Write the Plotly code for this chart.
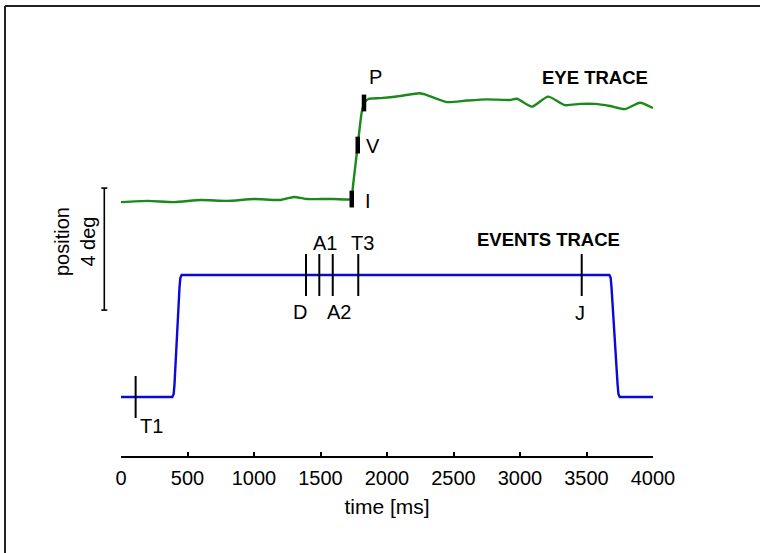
import plotly.graph_objects as go

# ---------------- data (time in ms, position in deg) ----------------
eye_t = [0, 200, 400, 600, 800, 1000, 1200, 1300, 1400, 1500, 1600, 1700, 1730,
         1745, 1780, 1810, 1830, 1860, 1950, 2100, 2248, 2300, 2450, 2600, 2752,
         2925, 2977, 3088, 3211, 3338, 3451, 3564, 3677, 3789, 3902, 4000]
eye_pos = [6.39, 6.43, 6.39, 6.46, 6.43, 6.49, 6.46, 6.56, 6.49, 6.49, 6.49, 6.475, 6.49,
           6.95, 8.26, 9.34, 9.64, 9.77, 9.80, 9.87, 9.96, 9.90, 9.67, 9.72, 9.76,
           9.74, 9.78, 9.52, 9.85, 9.57, 9.61, 9.61, 9.54, 9.44, 9.65, 9.475]

events_t = [0, 386, 396, 402, 440, 446, 456, 3672, 3682, 3688, 3734, 3740, 3750, 4000]
events_pos = [0, 0, 0.1, 0.4, 3.6, 3.9, 4, 4, 3.9, 3.6, 0.4, 0.1, 0, 0]

event_names = ["T1", "D", "A1", "A2", "T3", "J"]
event_times = [110, 1391, 1491, 1592, 1784, 3464]
event_levels = [0, 4, 4, 4, 4, 4]

eye_event_names = ["I", "V", "P"]
eye_event_times = [1735, 1780, 1827]
eye_event_pos = [6.49, 8.26, 9.64]

x_ticks = [0, 500, 1000, 1500, 2000, 2500, 3000, 3500, 4000]

# ---------------- layout constants ----------------
FONT = "Liberation Sans, Arial, Helvetica, sans-serif"
Y_RANGE = [-1.934, 12.033]
W, H = 760, 553
ML, MR, MT, MB = 121, 107, 30, 97
PW = W - ML - MR
PH = H - MT - MB


def ypaper(v):
    return (v - Y_RANGE[0]) / (Y_RANGE[1] - Y_RANGE[0])


def xpaper_px(px):
    return (px - ML) / PW


def ypaper_px(py):
    return (H - MB - py) / PH


fig = go.Figure()

fig.add_trace(go.Scatter(x=events_t, y=events_pos, mode="lines",
                         line=dict(color="#0a0ad8", width=2.4),
                         hoverinfo="skip"))
fig.add_trace(go.Scatter(x=eye_t, y=eye_pos, mode="lines",
                         line=dict(color="#1b8a1b", width=2.4, shape="spline", smoothing=0.6),
                         hoverinfo="skip"))

# event ticks
fig.add_trace(go.Scatter(x=event_times, y=event_levels, mode="markers",
                         marker=dict(symbol="line-ns", size=30, color="black",
                                     line=dict(color="black", width=2)),
                         hoverinfo="skip", cliponaxis=False))
# eye event markers
fig.add_trace(go.Scatter(x=eye_event_times, y=eye_event_pos, mode="markers",
                         marker=dict(symbol="line-ns", size=12, color="black",
                                     line=dict(color="black", width=4.5)),
                         hoverinfo="skip", cliponaxis=False))

# labels
label_pos = {
    "T1": (226, -0.95), "D": (1346, 2.79), "A1": (1534, 5.05), "A2": (1639, 2.79),
    "T3": (1812, 5.05), "J": (3451, 2.75),
    "P": (1917, 10.49), "V": (1895, 8.23), "I": (1857, 6.43),
}
annotations = []
for name in event_names + eye_event_names:
    x, y = label_pos[name]
    annotations.append(dict(x=x, y=y, text=name, showarrow=False, xanchor="center",
                            yanchor="middle", font=dict(family=FONT, size=20, color="black")))

annotations.append(dict(x=3564, y=10.46, text="<b>EYE TRACE</b>", showarrow=False,
                        xanchor="center", yanchor="middle",
                        font=dict(family=FONT, size=18.5, color="black")))
annotations.append(dict(x=3211, y=5.15, text="<b>EVENTS TRACE</b>", showarrow=False,
                        xanchor="center", yanchor="middle",
                        font=dict(family=FONT, size=18.5, color="black")))
annotations.append(dict(xref="paper", yref="paper", x=xpaper_px(75), y=ypaper_px(242),
                        text="position<br>4 deg", showarrow=False, textangle=-90,
                        xanchor="center", yanchor="middle",
                        font=dict(family=FONT, size=20, color="black")))

# scale bar (4 deg)
bar_x = xpaper_px(104.3)
cap = 3 / PW
shapes = [
    dict(type="line", xref="paper", yref="paper", x0=bar_x, x1=bar_x,
         y0=ypaper(2.85), y1=ypaper(6.85), line=dict(color="black", width=1.6)),
    dict(type="line", xref="paper", yref="paper", x0=bar_x - cap, x1=bar_x + cap,
         y0=ypaper(2.85), y1=ypaper(2.85), line=dict(color="black", width=1.6)),
    dict(type="line", xref="paper", yref="paper", x0=bar_x - cap, x1=bar_x + cap,
         y0=ypaper(6.85), y1=ypaper(6.85), line=dict(color="black", width=1.6)),
    # outer frame (left and top edges)
    dict(type="line", xref="paper", yref="paper", x0=xpaper_px(5), x1=xpaper_px(5),
         y0=ypaper_px(560), y1=ypaper_px(6), line=dict(color="#222222", width=2)),
    dict(type="line", xref="paper", yref="paper", x0=xpaper_px(5), x1=xpaper_px(770),
         y0=ypaper_px(6), y1=ypaper_px(6), line=dict(color="#222222", width=2)),
]

fig.update_layout(
    width=W, height=H,
    margin=dict(l=ML, r=MR, t=MT, b=MB),
    paper_bgcolor="white", plot_bgcolor="white",
    showlegend=False,
    font=dict(family=FONT, size=18, color="black"),
    annotations=annotations,
    shapes=shapes,
    xaxis=dict(range=[0, 4000], tickvals=x_ticks, ticktext=[str(v) for v in x_ticks],
               showline=True, linecolor="black", linewidth=1.5, ticks="inside",
               ticklen=4, tickwidth=1.5, tickcolor="black", showgrid=False, zeroline=False,
               ticklabelstandoff=3,
               tickfont=dict(family=FONT, size=20, color="black"),
               title=dict(text="time [ms]", font=dict(family=FONT, size=21, color="black"),
                          standoff=12)),
    yaxis=dict(range=Y_RANGE, visible=False, showgrid=False, zeroline=False),
)

fig.write_html("out.html")
